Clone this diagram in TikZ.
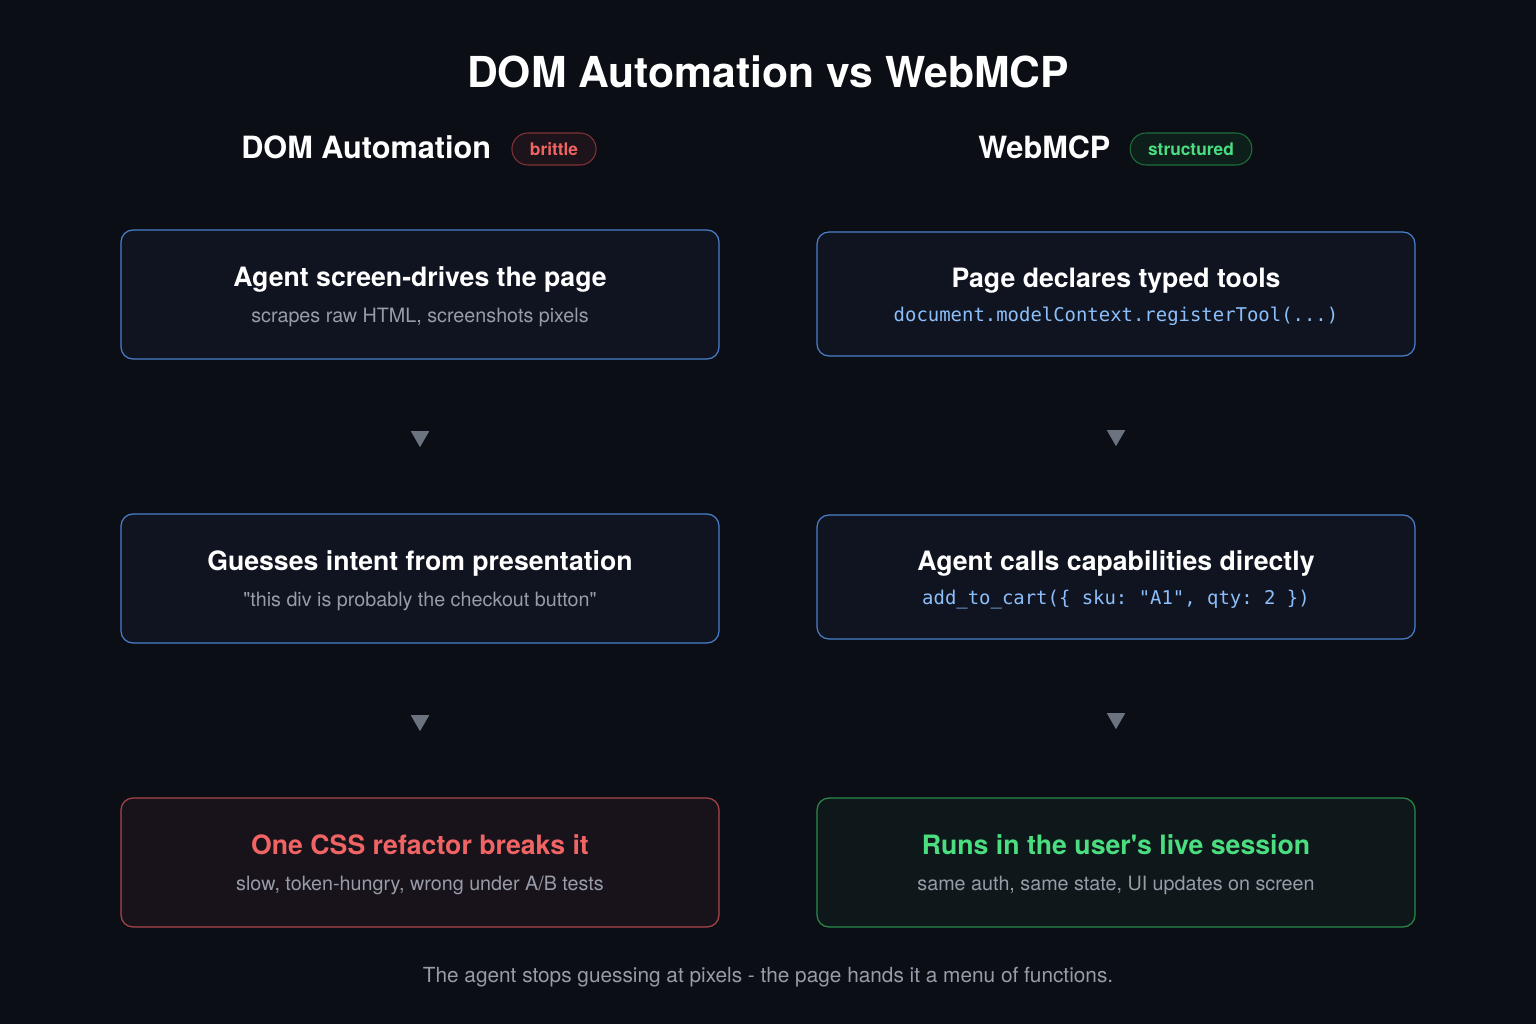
\documentclass[tikz,border=0pt]{standalone}
\usepackage{fontspec}
\setmainfont{TeX Gyre Heros}[Ligatures=TeXOff]
\setmonofont{DejaVu Sans Mono}
\usetikzlibrary{calc,positioning,shapes.geometric}

\definecolor{bg}{RGB}{11,14,20}
\definecolor{boxfill}{RGB}{15,20,32}
\definecolor{blueline}{RGB}{74,128,205}
\definecolor{redfill}{RGB}{24,19,27}
\definecolor{redline}{RGB}{170,70,75}
\definecolor{greenfill}{RGB}{14,24,27}
\definecolor{greenline}{RGB}{40,140,75}
\definecolor{redtext}{RGB}{240,100,100}
\definecolor{greentext}{RGB}{74,222,128}
\definecolor{subgray}{RGB}{150,156,168}
\definecolor{codeblue}{RGB}{140,190,250}
\definecolor{trigray}{RGB}{107,114,128}

\begin{document}
\begin{tikzpicture}[x=0.75pt,y=-0.75pt,
  box/.style={draw=blueline, fill=boxfill, line width=0.9pt, rounded corners=9pt,
    minimum width=448.5pt, minimum height=96.75pt},
  badbox/.style={box, draw=redline, fill=redfill},
  goodbox/.style={box, draw=greenline, fill=greenfill},
  head/.style={inner sep=0pt, anchor=base, text=white, font=\fontsize{20}{24}\selectfont\bfseries},
  sub/.style={inner sep=0pt, anchor=base, text=subgray, font=\fontsize{14.8}{17}\selectfont},
  code/.style={inner sep=0pt, anchor=base, text=codeblue, font=\fontsize{14.2}{17}\selectfont\ttfamily},
  pill/.style={draw, rounded corners=12pt, line width=0.8pt, minimum height=24pt,
    inner xsep=13.5pt, font=\fontsize{13}{15}\selectfont\bfseries},
  tri/.style={regular polygon, regular polygon sides=3, shape border rotate=180,
    fill=trigray, inner sep=0pt, minimum size=16pt}]

% background
\fill[bg] (0,0) rectangle (1536,1024);

% title and column headers
\node[text=white, font=\fontsize{32}{38}\selectfont\bfseries] (title) at (768,72) {DOM Automation vs WebMCP};
\node[head, anchor=base west, font=\fontsize{23}{27}\selectfont\bfseries] (hL) at (241,158) {DOM Automation};
\node[pill, draw={rgb,255:red,130;green,50;blue,55}, fill={rgb,255:red,28;green,20;blue,26}, text=redtext] (bL) at (554,149) {brittle};
\node[head, anchor=base west, font=\fontsize{23}{27}\selectfont\bfseries] (hR) at (978,158) {WebMCP};
\node[pill, draw={rgb,255:red,30;green,110;blue,60}, fill={rgb,255:red,14;green,30;blue,26}, text=greentext] (bR) at (1191,149) {structured};

% left column
\node[box] (l1) at (420,294.5) {};
\node[box] (l2) at (420,578.5) {};
\node[badbox] (l3) at (420,862.5) {};
\node[head] (l1t) at ($(l1.center)+(0,-8)$) {Agent screen-drives the page};
\node[sub] (l1s) at ($(l1.center)+(0,27.5)$) {scrapes raw HTML, screenshots pixels};
\node[head] (l2t) at ($(l2.center)+(0,-8)$) {Guesses intent from presentation};
\node[sub] (l2s) at ($(l2.center)+(0,27.5)$) {"this div is probably the checkout button"};
\node[head, text=redtext] (l3t) at ($(l3.center)+(0,-8)$) {One CSS refactor breaks it};
\node[sub] (l3s) at ($(l3.center)+(0,27.5)$) {slow, token-hungry, wrong under A/B tests};

% right column
\node[box, minimum height=93pt] (r1) at (1116,294) {};
\node[box, minimum height=93pt] (r2) at (1116,577) {};
\node[goodbox] (r3) at (1116,862.5) {};
\node[head] (r1t) at ($(r1.center)+(0,-7)$) {Page declares typed tools};
\node[code] (r1s) at ($(r1.center)+(0,27)$) {document.modelContext.registerTool(...)};
\node[head] (r2t) at ($(r2.center)+(0,-7)$) {Agent calls capabilities directly};
\node[code] (r2s) at ($(r2.center)+(0,27)$) {add\_to\_cart(\{ sku: "A1", qty: 2 \})};
\node[head, text=greentext] (r3t) at ($(r3.center)+(0,-8)$) {Runs in the user's live session};
\node[sub] (r3s) at ($(r3.center)+(0,27.5)$) {same auth, same state, UI updates on screen};

% step markers
\path (l1.south) -- node[tri] (a1) {} (l2.north);
\path (l2.south) -- node[tri] (a2) {} (l3.north);
\path (r1.south) -- node[tri] (a3) {} (r2.north);
\path (r2.south) -- node[tri] (a4) {} (r3.north);

% footer
\node[sub, anchor=center, font=\fontsize{15.6}{18}\selectfont] (foot) at (768,977) {The agent stops guessing at pixels - the page hands it a menu of functions.};
\end{tikzpicture}
\end{document}
